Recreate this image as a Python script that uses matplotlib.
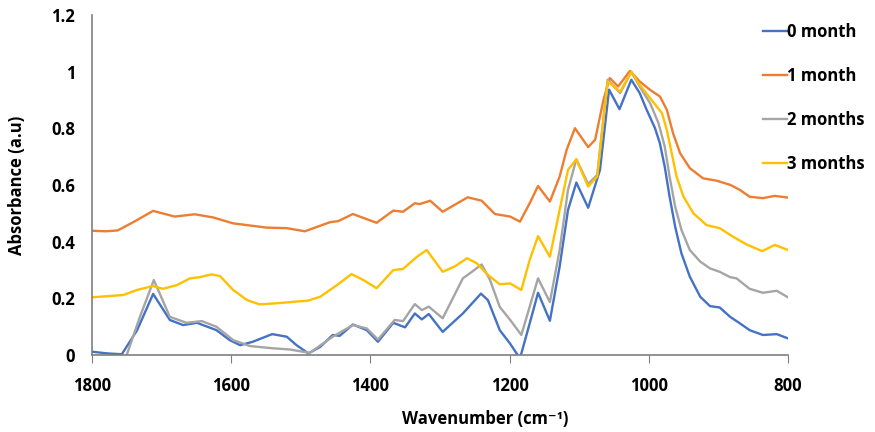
import matplotlib
matplotlib.use("Agg")
import matplotlib.pyplot as plt

plt.rcParams['font.family'] = ['Open Sans', 'DejaVu Sans']
plt.rcParams['font.weight'] = 'bold'

# values (wavenumber cm-1, absorbance a.u.)
wn_0 = [1800, 1778, 1757, 1735, 1712, 1688, 1669, 1649, 1621, 1602, 1587, 1569, 1541,
        1520, 1506, 1489, 1472, 1454, 1444, 1425, 1405, 1389, 1367, 1350, 1336, 1326,
        1316, 1296, 1267, 1241, 1231, 1214, 1199, 1185, 1171, 1159, 1142, 1128, 1116,
        1104, 1087, 1070, 1057, 1042, 1025, 1013, 1003, 991, 984, 977, 970, 962, 953,
        941, 926, 912, 898, 883, 869, 855, 836, 816, 800]
abs_0 = [0.012, 0.006, 0.003, 0.088, 0.216, 0.124, 0.106, 0.114, 0.088, 0.053, 0.035,
         0.047, 0.074, 0.065, 0.035, 0.006, 0.029, 0.071, 0.068, 0.108, 0.088, 0.047,
         0.114, 0.098, 0.147, 0.126, 0.145, 0.082, 0.147, 0.217, 0.194, 0.088, 0.04,
         -0.012, 0.112, 0.22, 0.121, 0.312, 0.512, 0.609, 0.52, 0.654, 0.937, 0.868,
         0.972, 0.925, 0.866, 0.801, 0.748, 0.665, 0.559, 0.453, 0.359, 0.277, 0.206,
         0.173, 0.168, 0.135, 0.112, 0.088, 0.071, 0.074, 0.059]

wn_1 = [1800, 1780, 1763, 1740, 1712, 1681, 1652, 1626, 1597, 1549, 1520, 1494, 1458,
        1446, 1425, 1391, 1367, 1353, 1336, 1329, 1314, 1296, 1260, 1240, 1221, 1199,
        1185, 1171, 1159, 1142, 1128, 1118, 1106, 1087, 1077, 1065, 1056, 1044, 1027,
        1013, 998, 984, 974, 965, 955, 941, 922, 903, 883, 869, 855, 836, 819, 800]
abs_1 = [0.439, 0.437, 0.44, 0.47, 0.509, 0.489, 0.497, 0.486, 0.465, 0.45, 0.448,
         0.437, 0.469, 0.473, 0.498, 0.467, 0.51, 0.506, 0.536, 0.533, 0.545, 0.506,
         0.557, 0.545, 0.498, 0.489, 0.471, 0.536, 0.597, 0.542, 0.63, 0.724, 0.801,
         0.734, 0.76, 0.901, 0.978, 0.948, 1.003, 0.966, 0.936, 0.913, 0.866, 0.783,
         0.713, 0.66, 0.624, 0.616, 0.601, 0.583, 0.559, 0.554, 0.562, 0.556]

wn_2 = [1800, 1760, 1750, 1731, 1711, 1688, 1664, 1642, 1621, 1597, 1573, 1540, 1516,
        1497, 1487, 1454, 1425, 1405, 1389, 1365, 1353, 1336, 1326, 1316, 1296, 1267,
        1254, 1240, 1228, 1214, 1199, 1183, 1171, 1159, 1142, 1128, 1116, 1104, 1087,
        1074, 1059, 1041, 1025, 1013, 998, 986, 977, 970, 962, 953, 941, 926, 912, 898,
        883, 874, 855, 836, 816, 800]
abs_2 = [-0.05, -0.02, 0.0, 0.135, 0.265, 0.135, 0.114, 0.12, 0.1, 0.053, 0.032, 0.024,
         0.02, 0.012, 0.008, 0.065, 0.106, 0.094, 0.055, 0.124, 0.12, 0.18, 0.159, 0.171,
         0.13, 0.271, 0.294, 0.32, 0.265, 0.17, 0.124, 0.071, 0.171, 0.271, 0.187, 0.371,
         0.583, 0.691, 0.604, 0.636, 0.972, 0.925, 1.0, 0.948, 0.889, 0.819, 0.736, 0.63,
         0.524, 0.442, 0.371, 0.33, 0.306, 0.294, 0.275, 0.271, 0.234, 0.22, 0.227, 0.204]

wn_3 = [1800, 1789, 1755, 1735, 1712, 1698, 1678, 1659, 1645, 1628, 1616, 1597, 1577,
        1559, 1534, 1511, 1490, 1472, 1448, 1427, 1410, 1391, 1367, 1353, 1333, 1319,
        1296, 1278, 1261, 1247, 1231, 1214, 1199, 1183, 1171, 1159, 1142, 1128, 1116,
        1104, 1087, 1074, 1059, 1041, 1025, 1013, 998, 981, 974, 967, 960, 950, 936, 917,
        898, 879, 859, 837, 819, 800]
abs_3 = [0.204, 0.206, 0.212, 0.23, 0.244, 0.234, 0.247, 0.271, 0.275, 0.285, 0.279,
         0.23, 0.194, 0.179, 0.183, 0.188, 0.192, 0.206, 0.247, 0.286, 0.265, 0.236,
         0.3, 0.304, 0.347, 0.371, 0.294, 0.314, 0.342, 0.324, 0.283, 0.25, 0.253, 0.23,
         0.336, 0.42, 0.347, 0.512, 0.654, 0.691, 0.595, 0.63, 0.966, 0.93, 1.0, 0.954,
         0.907, 0.854, 0.795, 0.713, 0.63, 0.559, 0.501, 0.459, 0.448, 0.418, 0.39,
         0.367, 0.389, 0.371]

labels = ["0 month", "1 month", "2 months", "3 months"]
colors = ["#4472C4", "#ED7D31", "#A5A5A5", "#FFC000"]

fig = plt.figure(figsize=(8.75, 4.32), dpi=100)
ax = fig.add_axes([0.105, 0.178, 0.7955, 0.787])

for x, y, lab, c in zip([wn_0, wn_1, wn_2, wn_3], [abs_0, abs_1, abs_2, abs_3], labels, colors):
    ax.plot(x, y, color=c, lw=1.7, label=lab)

ax.set_xlim(1800, 800)
ax.set_ylim(0, 1.2)
ax.set_xticks([1800, 1600, 1400, 1200, 1000, 800])
ax.set_yticks([0, 0.2, 0.4, 0.6, 0.8, 1.0, 1.2])
ax.set_yticklabels(["0", "0.2", "0.4", "0.6", "0.8", "1", "1.2"])

for s in ["top", "right"]:
    ax.spines[s].set_visible(False)
for s in ["left", "bottom"]:
    ax.spines[s].set_color("#7f7f7f")
    ax.spines[s].set_linewidth(1.2)

ax.tick_params(axis="y", length=0, pad=12, labelsize=12)
ax.tick_params(axis="x", length=6, color="#7f7f7f", direction="out", pad=10, labelsize=12)

ax.set_xlabel("Wavenumber (cm\u207b\u00b9)", fontsize=12, fontweight="bold")
ax.xaxis.set_label_coords(0.565, -0.16)
ax.set_ylabel("Absorbance (a.u)", fontsize=12, fontweight="bold")
ax.yaxis.set_label_coords(-0.095, 0.5)

ax.legend(loc="upper left", bbox_to_anchor=(0.868, 0.955), bbox_transform=fig.transFigure,
          frameon=False, fontsize=12, handlelength=1.45, handletextpad=0.0,
          labelspacing=1.57, borderaxespad=0, borderpad=0.2)

fig.savefig("out.png", dpi=100)
